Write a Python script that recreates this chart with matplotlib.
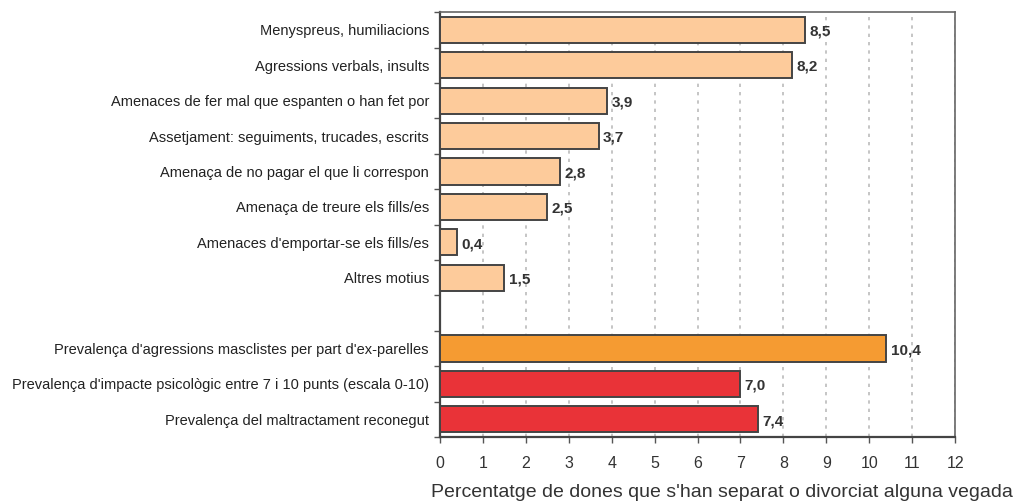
import numpy as np
import matplotlib
matplotlib.use('Agg')
import matplotlib.pyplot as plt

plt.rcParams['font.family'] = ['Liberation Sans', 'DejaVu Sans']

categories = [
    'Menyspreus, humiliacions',
    'Agressions verbals, insults',
    'Amenaces de fer mal que espanten o han fet por',
    'Assetjament: seguiments, trucades, escrits',
    'Amenaça de no pagar el que li correspon',
    'Amenaça de treure els fills/es',
    "Amenaces d'emportar-se els fills/es",
    'Altres motius',
    '',
    "Prevalença d'agressions masclistes per part d'ex-parelles",
    "Prevalença d'impacte psicològic entre 7 i 10 punts (escala 0-10)",
    'Prevalença del maltractament reconegut',
]
values = [8.5, 8.2, 3.9, 3.7, 2.8, 2.5, 0.4, 1.5, np.nan, 10.4, 7.0, 7.4]
bar_colors = ['#FDCB9B'] * 8 + ['white', '#F59B32', '#E93338', '#E93338']
xlabel = "Percentatge de dones que s'han separat o divorciat alguna vegada"

fig = plt.figure(figsize=(10.15, 5.04), dpi=100)
ax = fig.add_axes([0.4335, 0.133, 0.5075, 0.843])

pos = np.arange(len(categories))
for p, v, c in zip(pos, values, bar_colors):
    if np.isnan(v):
        continue
    ax.barh(p, v, height=0.74, color=c, edgecolor='#444444', linewidth=1.4, zorder=3)
    ax.text(v + 0.1, p + 0.05, f'{v:.1f}'.replace('.', ','), va='center', ha='left',
            fontsize=11, fontweight='bold', color='#333333', zorder=4)

ax.set_xlim(0, 12)
ax.set_ylim(len(categories) - 0.5, -0.5)
ax.set_xticks(range(13))
ax.set_xticklabels([str(i) for i in range(13)], fontsize=11.5, color='#333333')
ax.set_yticks(pos)
ax.set_yticklabels(categories, fontsize=10.5, color='#222222')
ax.tick_params(axis='y', which='major', length=0, pad=8)
ax.set_yticks(np.arange(-0.5, len(categories)), minor=True)
ax.tick_params(axis='y', which='minor', length=4, color='#555555', width=1)
ax.tick_params(axis='x', length=4, color='#555555', width=1, pad=10)

ax.xaxis.grid(True, linestyle=(0, (2, 3)), color='#BBBBBB', linewidth=1.2, zorder=0)
ax.set_axisbelow(True)
for s in ax.spines.values():
    s.set_color('#666666')
    s.set_linewidth(1.2)
ax.spines['left'].set_color('#444444')
ax.spines['left'].set_linewidth(1.6)
ax.spines['bottom'].set_color('#444444')
ax.spines['bottom'].set_linewidth(1.6)

fig.text(0.998, 0.023, xlabel, ha='right', va='center', fontsize=14, color='#333333')

fig.savefig('out.png', dpi=100)
